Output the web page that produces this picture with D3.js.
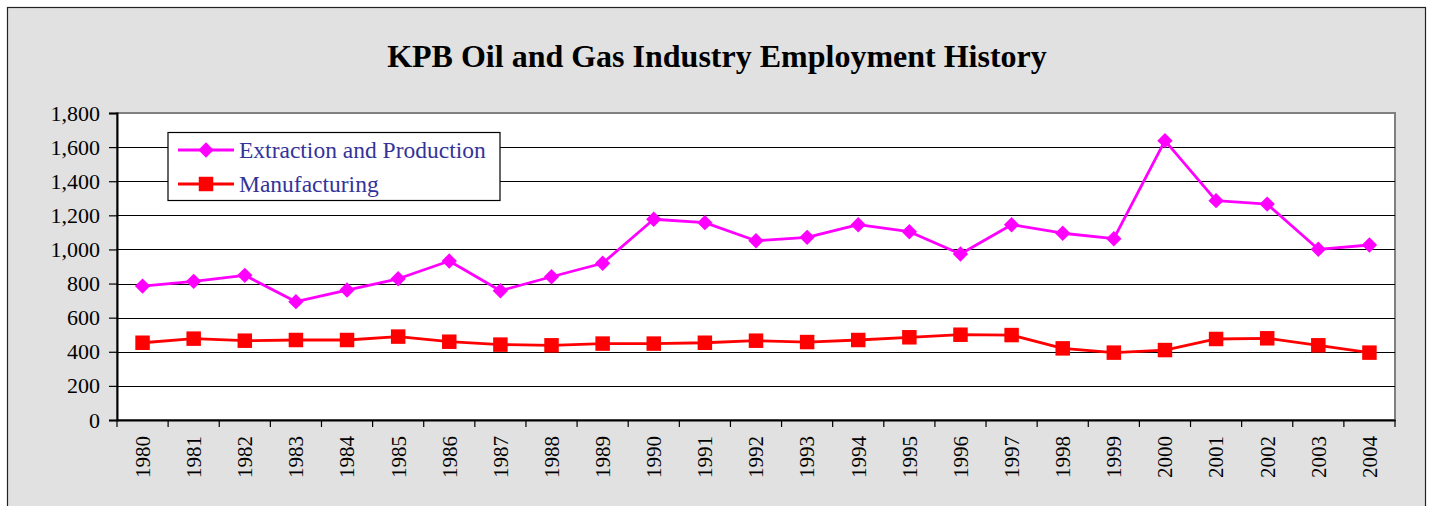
<!DOCTYPE html>
<html>
<head>
<meta charset="utf-8">
<script src="https://cdn.jsdelivr.net/npm/d3@7"></script>
<style>
  html, body { margin: 0; padding: 0; background: #ffffff; }
  svg { display: block; }
  svg text { font-family: "Liberation Serif", "Times New Roman", serif; }
</style>
</head>
<body>
<svg id="chart" width="1429" height="506"></svg>
<script>
// Employment counts by year, Kenai Peninsula Borough oil and gas industry
const years = ["1980","1981","1982","1983","1984","1985","1986","1987","1988","1989",
               "1990","1991","1992","1993","1994","1995","1996","1997","1998","1999",
               "2000","2001","2002","2003","2004"];
const extraction = [785, 813, 848, 694, 762, 828, 932, 758, 840, 919,
                    1177, 1157, 1051, 1071, 1145, 1104, 973, 1145, 1095, 1063,
                    1638, 1286, 1266, 1001, 1026];
const manufacturing = [453, 477, 465, 469, 469, 489, 459, 442, 438, 448,
                       448, 453, 465, 457, 469, 485, 500, 498, 420, 395,
                       410, 475, 479, 438, 395];
const yTicks = [0, 200, 400, 600, 800, 1000, 1200, 1400, 1600, 1800];
const seriesNames = ["Extraction and Production", "Manufacturing"];

const svg = d3.select("#chart");
const fmt = d3.format(",");
const serif = "Liberation Serif, Times New Roman, serif";

// chart frame
svg.append("rect")
  .attr("x", 7.5).attr("y", 7.5)
  .attr("width", 1418).attr("height", 520)
  .attr("fill", "#e1e1e1").attr("stroke", "#222").attr("stroke-width", 1.2);

svg.append("text")
  .attr("x", 717).attr("y", 67)
  .attr("text-anchor", "middle")
  .attr("font-family", serif)
  .attr("font-size", 32).attr("font-weight", "bold")
  .text("KPB Oil and Gas Industry Employment History");

const plot = { left: 117, right: 1395, top: 113, bottom: 420 };

const x = d3.scaleBand().domain(years).range([plot.left, plot.right]).padding(0);
const y = d3.scaleLinear().domain([0, 1800]).range([plot.bottom, plot.top]);

// plot area
svg.append("rect")
  .attr("x", plot.left).attr("y", plot.top)
  .attr("width", plot.right - plot.left).attr("height", plot.bottom - plot.top)
  .attr("fill", "#ffffff").attr("stroke", "#808080").attr("stroke-width", 2);

// horizontal gridlines
svg.append("g").selectAll("line")
  .data(yTicks.filter(d => d > 0 && d < 1800))
  .join("line")
  .attr("x1", plot.left).attr("x2", plot.right)
  .attr("y1", d => Math.round(y(d)) + 0.5).attr("y2", d => Math.round(y(d)) + 0.5)
  .attr("stroke", "#000").attr("stroke-width", 1.2);

// y axis
const yAxis = svg.append("g")
  .attr("transform", `translate(${plot.left},0)`)
  .call(d3.axisLeft(y).tickValues(yTicks).tickFormat(fmt).tickSize(8).tickPadding(9));
yAxis.select(".domain").attr("stroke", "#000").attr("stroke-width", 2);
yAxis.selectAll(".tick line").attr("stroke", "#000").attr("stroke-width", 1.2);
yAxis.selectAll(".tick text")
  .attr("font-family", serif).attr("font-size", 22).attr("fill", "#000");

// x axis: labels centered on categories, tick marks on category boundaries
const xAxis = svg.append("g")
  .attr("transform", `translate(0,${plot.bottom})`)
  .call(d3.axisBottom(x).tickSize(0).tickPadding(0));
xAxis.select(".domain").attr("stroke", "#000").attr("stroke-width", 2);
xAxis.selectAll(".tick text")
  .attr("font-family", serif).attr("font-size", 21).attr("fill", "#000")
  .attr("transform", "rotate(-90)")
  .attr("text-anchor", "end")
  .attr("dy", "0.35em")
  .attr("x", -16).attr("y", 0);

const boundaries = years.map(d => x(d)).concat([x.range()[1]]);
svg.append("g").selectAll("line")
  .data(boundaries)
  .join("line")
  .attr("x1", d => d).attr("x2", d => d)
  .attr("y1", plot.bottom).attr("y2", plot.bottom + 7)
  .attr("stroke", "#000").attr("stroke-width", 1.2);

// series
const cx = d => x(d) + x.bandwidth() / 2;
const line = d3.line().x(d => cx(d[0])).y(d => y(d[1]));

const series = [
  { name: seriesNames[0], values: extraction, color: "#ff00ff", shape: d3.symbolSquare, size: 118, rotate: 45 },
  { name: seriesNames[1], values: manufacturing, color: "#ff0000", shape: d3.symbolSquare, size: 210, rotate: 0 }
];

series.forEach(s => {
  const pts = years.map((yr, i) => [yr, s.values[i]]);
  svg.append("path")
    .datum(pts)
    .attr("d", line)
    .attr("fill", "none").attr("stroke", s.color).attr("stroke-width", 2.8)
    .attr("stroke-linejoin", "round");
  svg.append("g").selectAll("path")
    .data(pts)
    .join("path")
    .attr("transform", d => `translate(${cx(d[0])},${y(d[1])}) rotate(${s.rotate})`)
    .attr("d", d3.symbol().type(s.shape).size(s.size))
    .attr("fill", s.color);
});

// legend
const legend = svg.append("g");
legend.append("rect")
  .attr("x", 168).attr("y", 132.5).attr("width", 332).attr("height", 68)
  .attr("fill", "#ffffff").attr("stroke", "#000").attr("stroke-width", 1.2);
series.forEach((s, i) => {
  const ly = 150 + i * 34;
  legend.append("line")
    .attr("x1", 178).attr("x2", 234).attr("y1", ly).attr("y2", ly)
    .attr("stroke", s.color).attr("stroke-width", 2.8);
  legend.append("path")
    .attr("transform", `translate(206,${ly}) rotate(${s.rotate})`)
    .attr("d", d3.symbol().type(s.shape).size(s.size))
    .attr("fill", s.color);
  legend.append("text")
    .attr("x", 239).attr("y", ly).attr("dy", "0.35em")
    .attr("font-family", serif)
    .attr("font-size", 23.5).attr("fill", "#333399")
    .text(s.name);
});
</script>
</body>
</html>
